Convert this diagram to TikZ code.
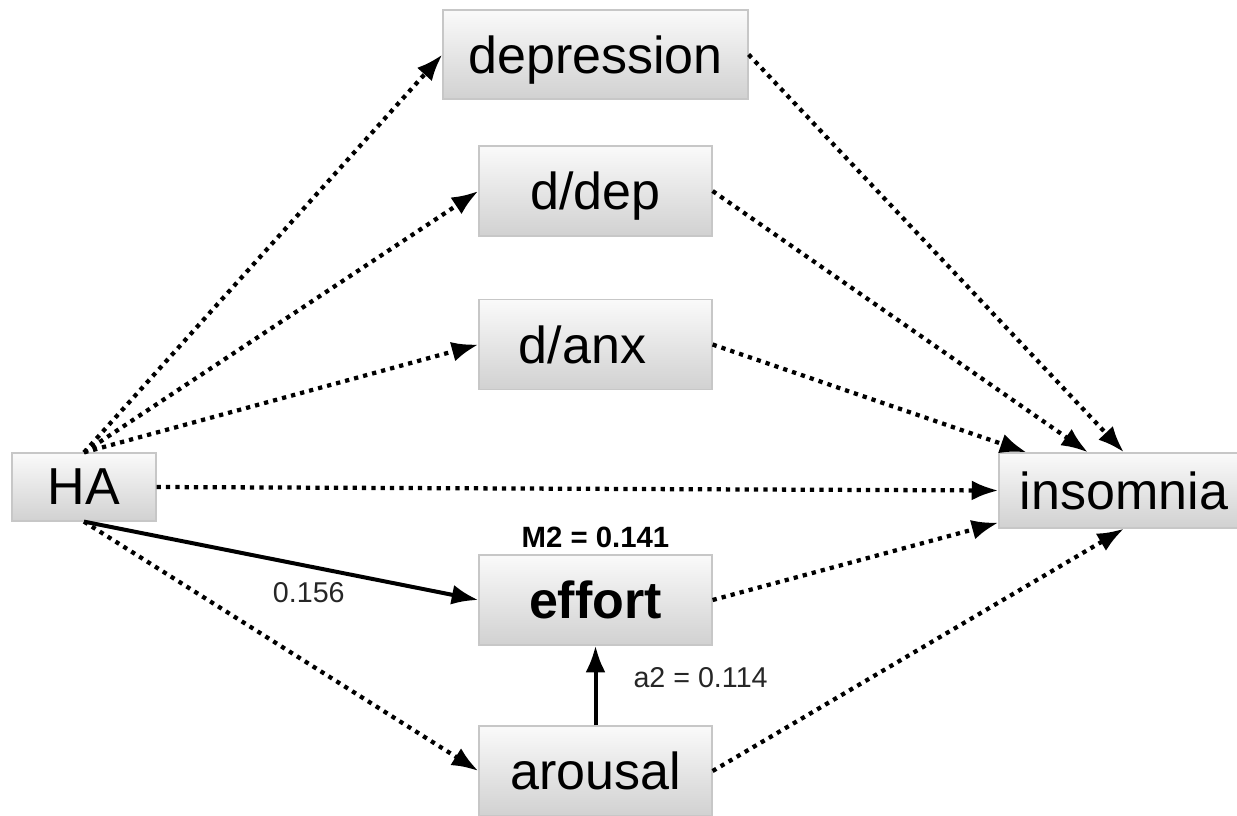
\documentclass[tikz,border=0pt]{standalone}
\usepackage{fontspec}
\setmainfont{Liberation Sans}
\usetikzlibrary{arrows.meta,positioning}

\tikzset{
  box/.style={draw=black!22, line width=0.9pt, top color=black!2, bottom color=black!18,
              inner sep=0pt, text depth=0pt, font=\fontsize{39}{46}\selectfont},
  dotlink/.style={line width=3.2pt, dash pattern=on 3.2pt off 3.8pt,
                  -{Latex[length=20pt,width=15pt]}},
  solidlink/.style={line width=3pt, -{Latex[length=20pt,width=15pt]}},
  coef/.style={font=\fontsize{21.5}{25}\selectfont, text=black!85, inner sep=0pt},
}

\begin{document}
\begin{tikzpicture}[x=0.75pt, y=-0.75pt]
  \useasboundingbox (0,0) rectangle (1237,815);

  % variables
  \node[box, minimum width=228.75pt, minimum height=66.75pt] (dep)  at (595.5,54.5) {depression};
  \node[box, minimum width=174.75pt, minimum height=67.5pt]  (ddep) at (595.5,191)  {d/dep};
  \node[box, minimum width=174.75pt, minimum height=67.5pt]  (danx) at (595.5,344.5) {d/anx\kern19.5pt};
  \node[box, minimum width=108pt,    minimum height=51pt]    (ha)   at (84,487)     {HA};
  \node[box, minimum width=187.5pt,  minimum height=56.25pt] (ins)  at (1124,490.5) {insomnia};
  \node[box, minimum width=174.75pt, minimum height=67.5pt, font=\fontsize{39}{46}\selectfont\bfseries]
        (eff)  at (595.5,600)  {effort};
  \node[box, minimum width=174.75pt, minimum height=67.5pt]  (aro)  at (595.5,771)  {arousal};

  \node[coef, font=\fontsize{22}{26}\selectfont\bfseries, text=black, above=5pt of eff] (m2) {M2 = 0.141};

  % paths from HA
  \draw[dotlink] (ha.north) -- (dep.west);
  \draw[dotlink] (ha.north) -- (ddep.west);
  \draw[dotlink] (ha.north) -- (danx.west);
  \draw[dotlink] (ha.east) -- (ins.west);
  \draw[solidlink] (ha.south) -- node[coef, pos=0.57, yshift=-19.5pt] (b1) {0.156} (eff.west);
  \draw[dotlink] (ha.south) -- (aro.west);

  % paths into insomnia
  \draw[dotlink] (dep.east)  -- (ins.north);
  \draw[dotlink] (ddep.east) -- ([xshift=-27pt]ins.north);
  \draw[dotlink] (danx.east) -- ([xshift=-73pt]ins.north);
  \draw[dotlink] (eff.east)  -- ([yshift=4.5pt]ins.south west);
  \draw[dotlink] (aro.east)  -- (ins.south);

  % arousal -> effort
  \draw[solidlink] (aro.north) -- node[coef, pos=0.6, anchor=west, xshift=27pt] (a2) {a2 = 0.114} (eff.south);
\end{tikzpicture}
\end{document}
